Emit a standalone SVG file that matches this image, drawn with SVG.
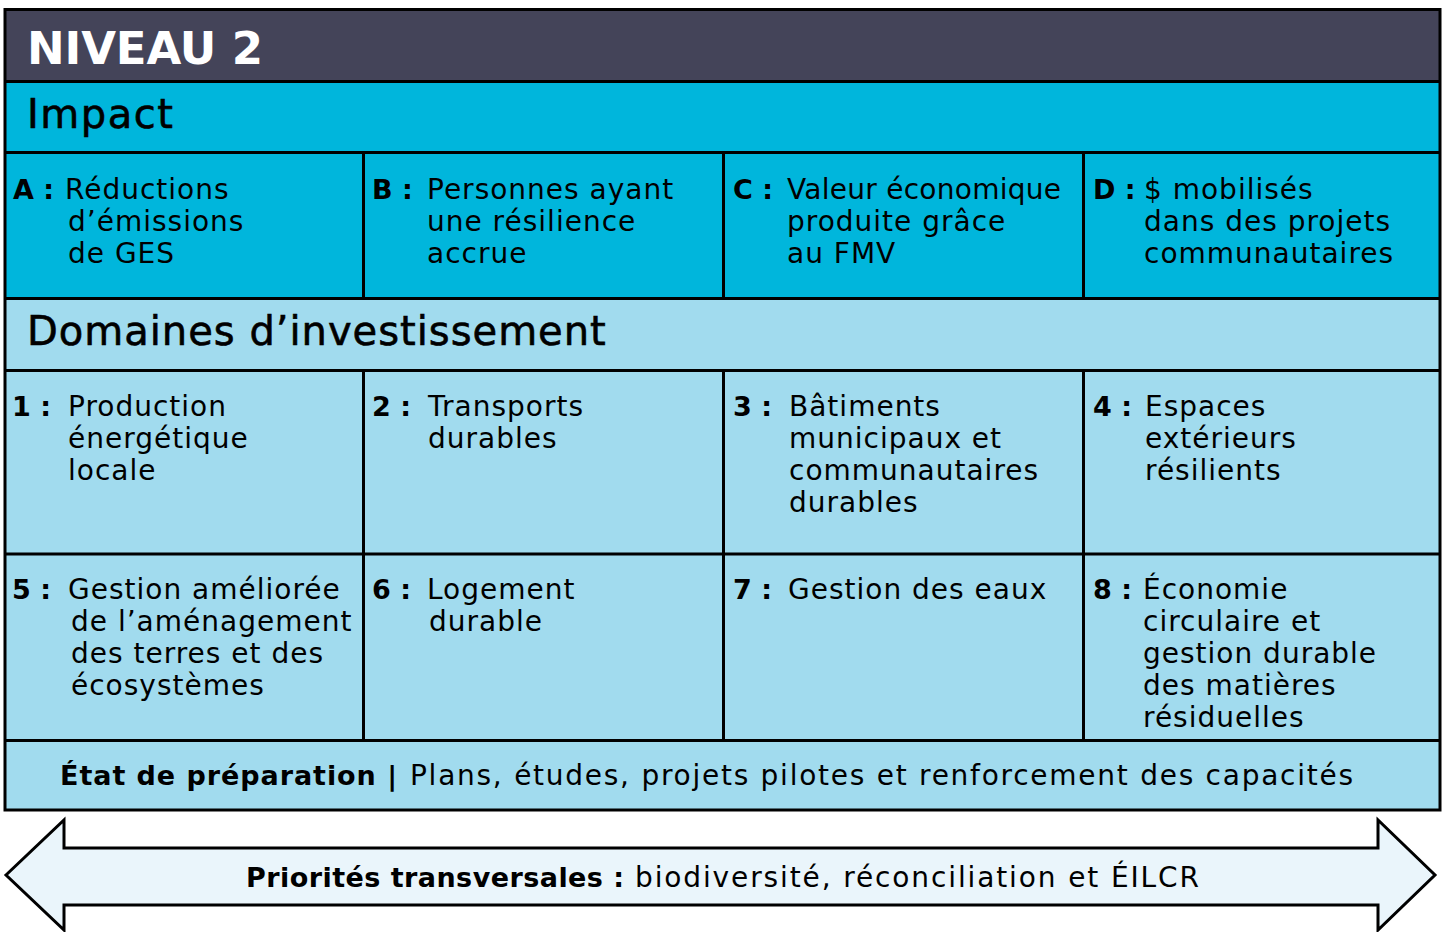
<svg xmlns="http://www.w3.org/2000/svg" width="1443" height="932" viewBox="0 0 1443 932">
<style>
.t{font-family:"DejaVu Sans","Liberation Sans",sans-serif;font-size:28px;letter-spacing:1px;fill:#000}
.b{font-weight:bold;letter-spacing:0px;font-size:27px}
.h{font-family:"DejaVu Sans","Liberation Sans",sans-serif;font-size:40px;fill:#000;stroke:#000;stroke-width:0.6px}
.ln{stroke:#000;stroke-width:3;fill:none}
.dark{fill:#444459}
.cyan{fill:#00b6dc}
.light{fill:#a1dbee}
</style>
<rect width="1443" height="932" fill="#fff"/>
<g id="niveau2">
<rect class="dark" x="5" y="9.5" width="1435" height="72"/>
<text x="27" y="64" font-family="DejaVu Sans, sans-serif" font-size="45" font-weight="bold" fill="#fff" textLength="236" lengthAdjust="spacing">NIVEAU 2</text>
</g>
<g id="impact">
<rect class="cyan" x="5" y="81.5" width="1435" height="217"/>
<text class="h" x="27" y="128" letter-spacing="1.5">Impact</text>
</g>
<g id="impact-a">
<text class="t" y="199"><tspan class="b" x="13">A :</tspan><tspan x="65">Réductions</tspan><tspan x="68" y="231">d’émissions</tspan><tspan x="68" y="263">de GES</tspan></text>
</g>
<g id="impact-b">
<text class="t" y="199"><tspan class="b" x="372">B :</tspan><tspan x="427">Personnes ayant</tspan><tspan x="427" y="231">une résilience</tspan><tspan x="427" y="263">accrue</tspan></text>
</g>
<g id="impact-c">
<text class="t" y="199"><tspan class="b" x="733">C :</tspan><tspan x="787" textLength="275" lengthAdjust="spacing">Valeur économique</tspan><tspan x="787" y="231">produite grâce</tspan><tspan x="787" y="263">au FMV</tspan></text>
</g>
<g id="impact-d">
<text class="t" y="199"><tspan class="b" x="1093">D :</tspan><tspan x="1144">$ mobilisés</tspan><tspan x="1144" y="231">dans des projets</tspan><tspan x="1144" y="263">communautaires</tspan></text>
</g>
<g id="domaines">
<rect class="light" x="5" y="298.5" width="1435" height="511.5"/>
<text class="h" x="27" y="345" letter-spacing="1">Domaines d’investissement</text>
</g>
<g id="domaine-1">
<text class="t" y="416"><tspan class="b" x="12">1 :</tspan><tspan x="68">Production</tspan><tspan x="68" y="448">énergétique</tspan><tspan x="68" y="480">locale</tspan></text>
</g>
<g id="domaine-2">
<text class="t" y="416"><tspan class="b" x="372">2 :</tspan><tspan x="428">Transports</tspan><tspan x="428" y="448">durables</tspan></text>
</g>
<g id="domaine-3">
<text class="t" y="416"><tspan class="b" x="733">3 :</tspan><tspan x="789">Bâtiments</tspan><tspan x="789" y="448">municipaux et</tspan><tspan x="789" y="480">communautaires</tspan><tspan x="789" y="512">durables</tspan></text>
</g>
<g id="domaine-4">
<text class="t" y="416"><tspan class="b" x="1093">4 :</tspan><tspan x="1145">Espaces</tspan><tspan x="1145" y="448">extérieurs</tspan><tspan x="1145" y="480">résilients</tspan></text>
</g>
<g id="domaine-5">
<text class="t" y="599"><tspan class="b" x="12">5 :</tspan><tspan x="68">Gestion améliorée</tspan><tspan x="71" y="631">de l’aménagement</tspan><tspan x="71" y="663">des terres et des</tspan><tspan x="71" y="695">écosystèmes</tspan></text>
</g>
<g id="domaine-6">
<text class="t" y="599"><tspan class="b" x="372">6 :</tspan><tspan x="427">Logement</tspan><tspan x="429" y="631">durable</tspan></text>
</g>
<g id="domaine-7">
<text class="t" y="599"><tspan class="b" x="733">7 :</tspan><tspan x="788">Gestion des eaux</tspan></text>
</g>
<g id="domaine-8">
<text class="t" y="599"><tspan class="b" x="1093">8 :</tspan><tspan x="1143">Économie</tspan><tspan x="1143" y="631">circulaire et</tspan><tspan x="1143" y="663">gestion durable</tspan><tspan x="1143" y="695">des matières</tspan><tspan x="1143" y="727">résiduelles</tspan></text>
</g>
<g id="etat">
<text class="t b" x="60" y="785" font-size="28" textLength="337" lengthAdjust="spacing">État de préparation |</text>
<text class="t" x="410" y="785" textLength="944" lengthAdjust="spacing">Plans, études, projets pilotes et renforcement des capacités</text>
</g>
<g id="grid">
<line class="ln" x1="5" y1="81.5" x2="1440" y2="81.5" stroke-width="3.5"/>
<line class="ln" x1="5" y1="152.5" x2="1440" y2="152.5"/>
<line class="ln" x1="5" y1="298.5" x2="1440" y2="298.5"/>
<line class="ln" x1="5" y1="370.5" x2="1440" y2="370.5"/>
<line class="ln" x1="5" y1="554" x2="1440" y2="554"/>
<line class="ln" x1="5" y1="740.5" x2="1440" y2="740.5"/>
<line class="ln" x1="363.5" y1="152.5" x2="363.5" y2="298.5"/>
<line class="ln" x1="723.5" y1="152.5" x2="723.5" y2="298.5"/>
<line class="ln" x1="1083.5" y1="152.5" x2="1083.5" y2="298.5"/>
<line class="ln" x1="363.5" y1="370.5" x2="363.5" y2="740.5"/>
<line class="ln" x1="723.5" y1="370.5" x2="723.5" y2="740.5"/>
<line class="ln" x1="1083.5" y1="370.5" x2="1083.5" y2="740.5"/>
<rect class="ln" x="5" y="9.5" width="1435" height="800.5" stroke-width="3.5"/>
</g>
<g id="connectors"></g>
<g id="priorites">
<polygon points="6,875 64,820 64,848 1378,848 1378,820 1435,875 1378,930 1378,905 64,905 64,930" fill="#eaf5fb" stroke="#000" stroke-width="3" stroke-linejoin="miter"/>
<text class="t b" x="246" y="887" font-size="28" textLength="378" lengthAdjust="spacing">Priorités transversales :</text>
<text class="t" x="635" y="887" textLength="565" lengthAdjust="spacing">biodiversité, réconciliation et ÉILCR</text>
</g>
</svg>
